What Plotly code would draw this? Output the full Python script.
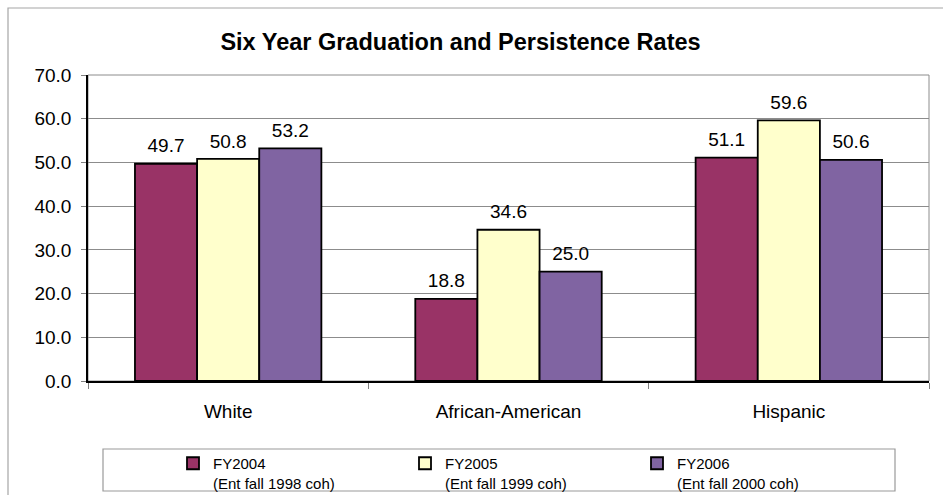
import plotly.graph_objects as go

categories = ["White", "African-American", "Hispanic"]
series_names = ["FY2004<br>(Ent fall 1998 coh)",
                "FY2005<br>(Ent fall 1999 coh)",
                "FY2006<br>(Ent fall 2000 coh)"]
fy2004 = [49.7, 18.8, 51.1]
fy2005 = [50.8, 34.6, 59.6]
fy2006 = [53.2, 25.0, 50.6]
colors = ["#993366", "#FFFFCC", "#8064A2"]
y_ticks = [0, 10, 20, 30, 40, 50, 60, 70]

FONT = "Liberation Sans, Arial, sans-serif"
W, H = 943, 495
L, R, T, B = 88, 929, 75, 381  # plot area in pixels
GAP = 0.335


def px_x(px):
    return (px - L) / (R - L)


def px_y(py):
    return (B - py) / (B - T)


fig = go.Figure()
all_series = [fy2004, fy2005, fy2006]
for i, (name, vals, col) in enumerate(zip(series_names, all_series, colors)):
    fig.add_trace(go.Bar(
        x=categories, y=vals, name=name,
        marker=dict(color=col, line=dict(color="black", width=1.8)),
        offsetgroup=str(i),
        hoverinfo="skip",
    ))
# data labels: text-only scatter traces grouped like the bars
for i, vals in enumerate(all_series):
    fig.add_trace(go.Scatter(
        x=categories, y=vals, mode="markers+text", orientation="v",
        offsetgroup=str(i),
        text=[f"{v:.1f}" for v in vals], textposition="top center",
        textfont=dict(family=FONT, size=19, color="black"),
        marker=dict(size=9, color="rgba(0,0,0,0)"),
        showlegend=False, cliponaxis=False, hoverinfo="skip",
    ))

shapes = [
    # outer chart border (cropped on right/bottom)
    dict(type="rect", xref="paper", yref="paper",
         x0=px_x(8), x1=px_x(980), y0=px_y(540), y1=px_y(8),
         line=dict(color="#a6a6a6", width=1.2), layer="below"),
    # plot area border
    dict(type="rect", xref="paper", yref="paper",
         x0=0, x1=1, y0=0, y1=1,
         line=dict(color="#8c8c8c", width=1), layer="below"),
    # legend box
    dict(type="rect", xref="paper", yref="paper",
         x0=px_x(103), x1=px_x(895), y0=px_y(491), y1=px_y(449),
         line=dict(color="#9a9a9a", width=1.2), layer="below"),
]

fig.update_layout(
    width=W, height=H,
    margin=dict(l=L, r=W - R, t=T, b=H - B, pad=0, autoexpand=False),
    paper_bgcolor="white", plot_bgcolor="white",
    font=dict(family=FONT, size=19, color="black"),
    title=dict(text="<b>Six Year Graduation and Persistence Rates</b>",
               font=dict(family=FONT, size=23.5, color="black"),
               x=460.5 / W, xref="container", xanchor="center",
               y=1 - 42 / H, yref="container", yanchor="middle"),
    barmode="group", bargap=GAP, bargroupgap=0,
    scattermode="group", scattergap=GAP,
    showlegend=True,
    legend=dict(orientation="h", xref="container", yref="container",
                x=173 / W, xanchor="left",
                y=1 - 447 / H, yanchor="top",
                font=dict(family=FONT, size=15, color="black"),
                entrywidth=187, entrywidthmode="pixels",
                valign="top", bgcolor="rgba(0,0,0,0)", borderwidth=0,
                traceorder="normal"),
    shapes=shapes,
)

fig.update_yaxes(range=[0, 70], tickvals=y_ticks, tickformat=".1f",
                 showgrid=True, gridcolor="#8c8c8c", gridwidth=1,
                 showline=True, linecolor="black", linewidth=1.5,
                 ticks="outside", ticklen=5, tickcolor="#808080",
                 ticklabelstandoff=6, zeroline=False, automargin=False,
                 tickfont=dict(family=FONT, size=19, color="black"))
fig.update_xaxes(showline=True, linecolor="black", linewidth=2,
                 ticks="outside", ticklen=6, tickcolor="#808080",
                 tickson="boundaries", ticklabelstandoff=12, automargin=False,
                 tickfont=dict(family=FONT, size=19, color="black"),
                 showgrid=False)

fig.write_html(
    "out.html",
    config={"displayModeBar": False},
    post_script="document.body.style.margin='0px';"
                "document.body.style.overflow='hidden';",
)
